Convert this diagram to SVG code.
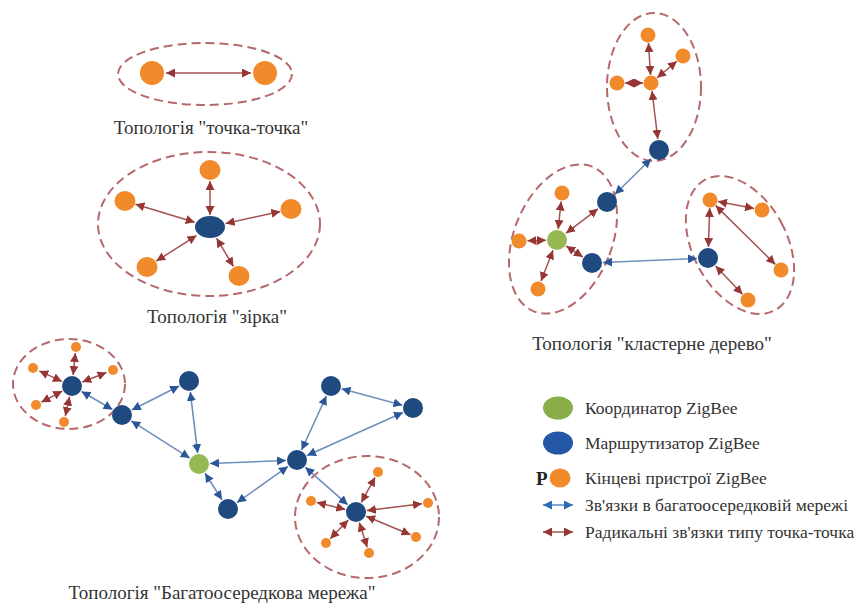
<svg xmlns="http://www.w3.org/2000/svg" width="857" height="604" viewBox="0 0 857 604">
<defs>
<style>
.bg{fill:#ffffff}
.dash{fill:none;stroke:#b5696a;stroke-width:2;stroke-dasharray:9 5}
.end{fill:#f08a2a}
.rt{fill:#1f4a80}
.co{fill:#96b853}
.red{stroke:#a55252;stroke-width:1.5;fill:none;marker-start:url(#ra);marker-end:url(#ra)}
.blue{stroke:#6f8fbf;stroke-width:1.6;fill:none;marker-start:url(#ba);marker-end:url(#ba)}
.cap{font-family:"Liberation Serif","Times New Roman",serif;font-size:19px;fill:#333333;text-anchor:middle}
.lg{font-family:"Liberation Serif","Times New Roman",serif;font-size:17.5px;fill:#333333}
</style>
<marker id="ra" viewBox="0 0 10 10" refX="10" refY="5" markerWidth="9" markerHeight="9" markerUnits="userSpaceOnUse" orient="auto-start-reverse"><path d="M0,0 L10,5 L0,10 Z" fill="#963634"/></marker>
<marker id="ba" viewBox="0 0 10 10" refX="10" refY="5" markerWidth="9" markerHeight="9" markerUnits="userSpaceOnUse" orient="auto-start-reverse"><path d="M0,0 L10,5 L0,10 Z" fill="#2a5597"/></marker>
<marker id="lba" viewBox="0 0 10 10" refX="10" refY="5" markerWidth="9" markerHeight="9" markerUnits="userSpaceOnUse" orient="auto-start-reverse"><path d="M0,0 L10,5 L0,10 Z" fill="#2e6bb5"/></marker>
</defs>
<rect class="bg" x="0" y="0" width="857" height="604"/>

<g id="clusters">
<ellipse class="dash" cx="205" cy="74" rx="87" ry="31"/>
<ellipse class="dash" cx="209" cy="224" rx="111" ry="72"/>
<ellipse class="dash" cx="69" cy="384" rx="56" ry="45"/>
<ellipse class="dash" cx="367" cy="517" rx="72" ry="61"/>
<ellipse class="dash" cx="654" cy="87" rx="47" ry="74"/>
<ellipse class="dash" cx="563" cy="239" rx="49" ry="78" transform="rotate(22 563 239)"/>
<ellipse class="dash" cx="740" cy="245" rx="47" ry="74" transform="rotate(-28 740 245)"/>
</g>

<g id="connectors">
<line class="red" x1="166" y1="73" x2="251" y2="73"/>
<line class="red" x1="210" y1="215" x2="210" y2="181"/>
<line class="red" x1="194.7" y1="222.3" x2="135.5" y2="204.2"/>
<line class="red" x1="225.6" y1="223.5" x2="280.3" y2="211.4"/>
<line class="red" x1="196.5" y1="235.6" x2="156.3" y2="261.1"/>
<line class="red" x1="216.6" y1="238.2" x2="233.4" y2="266.5"/>
<line class="red" x1="73.1" y1="375" x2="75.4" y2="353"/>
<line class="red" x1="82.3" y1="382" x2="106.5" y2="372.5"/>
<line class="red" x1="62" y1="381.4" x2="39.3" y2="370.9"/>
<line class="red" x1="62.3" y1="391.1" x2="41.3" y2="402.2"/>
<line class="red" x1="69.6" y1="396.7" x2="65.3" y2="416.1"/>
<line class="blue" x1="81.5" y1="391.5" x2="112.5" y2="409.5"/>
<line class="blue" x1="131.8" y1="410" x2="179.2" y2="386"/>
<line class="blue" x1="131.3" y1="420.9" x2="189.7" y2="458.1"/>
<line class="blue" x1="190.3" y1="391.9" x2="197.7" y2="453.1"/>
<line class="blue" x1="210" y1="463.5" x2="286" y2="460.5"/>
<line class="blue" x1="205" y1="473.3" x2="222" y2="499.7"/>
<line class="blue" x1="237" y1="502.6" x2="288" y2="466.4"/>
<line class="blue" x1="301.6" y1="450" x2="326.4" y2="396"/>
<line class="blue" x1="341.6" y1="388.8" x2="402.4" y2="405.2"/>
<line class="blue" x1="307" y1="455.5" x2="403" y2="412.5"/>
<line class="blue" x1="305.3" y1="467.3" x2="347.7" y2="504.7"/>
<line class="red" x1="361.3" y1="502.4" x2="375.1" y2="477.3"/>
<line class="red" x1="366.9" y1="510.6" x2="422" y2="503.7"/>
<line class="red" x1="366.2" y1="516.2" x2="410.5" y2="534.7"/>
<line class="red" x1="359.3" y1="522.5" x2="367.2" y2="547.3"/>
<line class="red" x1="348.3" y1="519.9" x2="330.2" y2="538.7"/>
<line class="red" x1="345.3" y1="509.4" x2="316.8" y2="502.4"/>
<line class="red" x1="650.5" y1="75" x2="648.5" y2="43"/>
<line class="red" x1="657.1" y1="77.8" x2="676.9" y2="61.2"/>
<line class="red" x1="643" y1="83" x2="625" y2="83"/>
<line class="red" x1="652" y1="91" x2="657.8" y2="139"/>
<line class="blue" x1="651.1" y1="158.7" x2="614.9" y2="194.3"/>
<line class="red" x1="566" y1="233.2" x2="598" y2="208.8"/>
<line class="red" x1="566.2" y1="246" x2="582.8" y2="257"/>
<line class="red" x1="558.2" y1="229" x2="561.1" y2="201.5"/>
<line class="red" x1="546" y1="240.3" x2="527.5" y2="240.8"/>
<line class="red" x1="553" y1="250.3" x2="541" y2="281.1"/>
<line class="blue" x1="603" y1="262.5" x2="697" y2="258.5"/>
<line class="red" x1="708.4" y1="247" x2="709.7" y2="208"/>
<line class="red" x1="715.6" y1="266" x2="742.5" y2="294.2"/>
<line class="red" x1="718" y1="201.5" x2="754" y2="208.5"/>
<line class="red" x1="715.7" y1="205.6" x2="775.3" y2="264.4"/>
</g>

<g id="p2p-nodes">
<circle id="p2p-a" class="end" cx="152" cy="73" r="12"/>
<circle id="p2p-b" class="end" cx="265" cy="73" r="12"/>
</g>

<g id="star-nodes">
<ellipse id="star-c" class="rt" cx="210" cy="227" rx="15" ry="11"/>
<ellipse id="star-1" class="end" cx="210" cy="170" rx="10.5" ry="10"/>
<ellipse id="star-2" class="end" cx="125" cy="201" rx="10.5" ry="10"/>
<ellipse id="star-3" class="end" cx="291" cy="209" rx="10.5" ry="10"/>
<ellipse id="star-4" class="end" cx="147" cy="267" rx="10.5" ry="10"/>
<ellipse id="star-5" class="end" cx="239" cy="276" rx="10.5" ry="10"/>
</g>

<g id="mesh-nodes">
<circle id="m-r0" class="rt" cx="72" cy="386" r="10"/>
<circle id="m-e1" class="end" cx="76" cy="347" r="5"/>
<circle id="m-e2" class="end" cx="113" cy="370" r="5"/>
<circle id="m-e3" class="end" cx="33" cy="368" r="5"/>
<circle id="m-e4" class="end" cx="36" cy="405" r="5"/>
<circle id="m-e5" class="end" cx="64" cy="422" r="5"/>
<circle id="m-r1" class="rt" cx="122" cy="415" r="10"/>
<circle id="m-r2" class="rt" cx="189" cy="381" r="10"/>
<circle id="m-c" class="co" cx="199" cy="464" r="10"/>
<circle id="m-r3" class="rt" cx="228" cy="509" r="10"/>
<circle id="m-r4" class="rt" cx="297" cy="460" r="10"/>
<circle id="m-r5" class="rt" cx="331" cy="386" r="10"/>
<circle id="m-r6" class="rt" cx="413" cy="408" r="10"/>
<circle id="m-r7" class="rt" cx="356" cy="512" r="10"/>
<circle id="m-e6" class="end" cx="378" cy="472" r="5"/>
<circle id="m-e7" class="end" cx="428" cy="503" r="5"/>
<circle id="m-e8" class="end" cx="416" cy="537" r="5"/>
<circle id="m-e9" class="end" cx="369" cy="553" r="5"/>
<circle id="m-e10" class="end" cx="326" cy="543" r="5"/>
<circle id="m-e11" class="end" cx="311" cy="501" r="5"/>
</g>

<g id="tree-nodes">
<circle id="t-e1" class="end" cx="648" cy="35" r="7.5"/>
<circle id="t-e2" class="end" cx="683" cy="56" r="7.5"/>
<circle id="t-e3" class="end" cx="617" cy="83" r="7.5"/>
<circle id="t-e4" class="end" cx="651" cy="83" r="7.5"/>
<circle id="t-r1" class="rt" cx="659" cy="150" r="10"/>
<circle id="t-ra" class="rt" cx="607" cy="202" r="10"/>
<circle id="t-c" class="co" cx="557" cy="240" r="10"/>
<circle id="t-rb" class="rt" cx="592" cy="263" r="10"/>
<circle id="t-e5" class="end" cx="562" cy="193" r="7.5"/>
<circle id="t-e6" class="end" cx="519" cy="241" r="7.5"/>
<circle id="t-e7" class="end" cx="538" cy="289" r="7.5"/>
<circle id="t-r2" class="rt" cx="708" cy="258" r="10"/>
<circle id="t-e8" class="end" cx="710" cy="200" r="7.5"/>
<circle id="t-e9" class="end" cx="762" cy="210" r="7.5"/>
<circle id="t-e10" class="end" cx="781" cy="270" r="7.5"/>
<circle id="t-e11" class="end" cx="748" cy="300" r="7.5"/>
</g>

<g id="captions">
<text class="cap" x="211" y="134" font-size="17.5">Топологія "точка-точка"</text>
<text class="cap" x="217" y="323">Топологія "зірка"</text>
<text class="cap" x="652" y="350">Топологія "кластерне дерево"</text>
<text class="cap" x="222" y="599">Топологія "Багатоосередкова мережа"</text>
</g>

<g id="legend">
<ellipse cx="558" cy="408" rx="15" ry="11.5" fill="#8aad4a"/>
<text class="lg" x="585" y="414">Координатор ZigBee</text>
<ellipse cx="558" cy="443" rx="15" ry="11.5" fill="#2458a6"/>
<text class="lg" x="585" y="449">Маршрутизатор ZigBee</text>
<text x="536" y="485" font-family="Liberation Serif, serif" font-size="19" font-weight="bold" fill="#222222">P</text>
<ellipse cx="560" cy="478" rx="10.5" ry="9.5" fill="#f08a2a"/>
<text class="lg" x="585" y="484">Кінцеві пристрої ZigBee</text>
<line x1="543" y1="505" x2="573" y2="505" stroke="#5a86c8" stroke-width="1.5" marker-start="url(#lba)" marker-end="url(#lba)"/>
<text class="lg" x="585" y="511">Зв'язки в багатоосередковій мережі</text>
<line x1="543" y1="532" x2="573" y2="532" stroke="#a55252" stroke-width="1.5" marker-start="url(#ra)" marker-end="url(#ra)"/>
<text class="lg" x="585" y="538">Радикальні зв'язки типу точка-точка</text>
</g>
</svg>
